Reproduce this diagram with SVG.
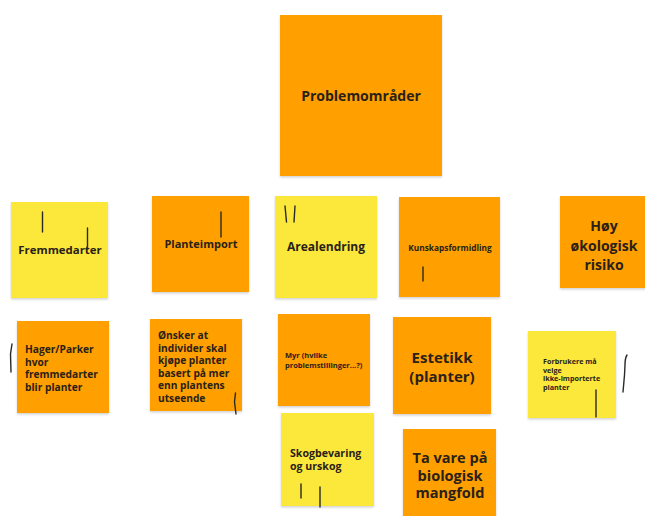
<svg xmlns="http://www.w3.org/2000/svg" width="645" height="516" viewBox="0 0 645 516">
<defs>
<filter id="sh" x="-10%" y="-10%" width="120%" height="120%">
<feDropShadow dx="0" dy="1.5" stdDeviation="1.2" flood-color="#000" flood-opacity="0.18"/>
</filter>
</defs>
<style>
.o{fill:#FF9F00;filter:url(#sh)}
.y{fill:#FCE83A;filter:url(#sh)}
text{font-family:"Open Sans","DejaVu Sans",sans-serif;font-weight:700;fill:#2a2118}
.c{text-anchor:middle}
.pen{fill:none;stroke:#2a2a2a;stroke-width:1.4;stroke-linecap:round}
</style>
<rect width="645" height="516" fill="#fff"/>
<g id="problemomrader"><rect class="o" x="280" y="15" width="162" height="161"/><text class="c" x="361" y="101" font-size="14">Problemområder</text></g>
<g id="fremmedarter"><rect class="y" x="11" y="202" width="97" height="96"/><text class="c" x="60" y="254" font-size="11.4">Fremmedarter</text><path class="pen" d="M42.5 212v20M87.5 228v21"/></g>
<g id="planteimport"><rect class="o" x="152" y="196" width="97" height="96"/><text class="c" x="201" y="248" font-size="11">Planteimport</text><path class="pen" d="M221 212v25"/></g>
<g id="arealendring"><rect class="y" x="275" y="196" width="102" height="102"/><text class="c" x="326" y="251" font-size="12">Arealendring</text><path class="pen" d="M285 206l1.5 16M295 206l-1 16"/></g>
<g id="kunskapsformidling"><rect class="o" x="399" y="197" width="101" height="100"/><text class="c" x="450" y="251" font-size="8.3">Kunskapsformidling</text><path class="pen" d="M423 267v14"/></g>
<g id="hoy-risiko"><rect class="o" x="560" y="196" width="88" height="92"/><text class="c" font-size="14"><tspan x="604" y="231">Høy</tspan><tspan x="604" y="251">økologisk</tspan><tspan x="604" y="270">risiko</tspan></text></g>
<g id="hager"><rect class="o" x="17" y="321" width="92" height="92"/><text font-size="10.2"><tspan x="25" y="353">Hager/Parker</tspan><tspan x="25" y="365.5">hvor</tspan><tspan x="25" y="378">fremmedarter</tspan><tspan x="25" y="390.5">blir planter</tspan></text><path class="pen" d="M12 344l-1.5 10 0.5 18"/></g>
<g id="onsker"><rect class="o" x="150" y="319" width="92" height="92"/><text font-size="10.2"><tspan x="158" y="339">Ønsker at</tspan><tspan x="158" y="351.5">individer skal</tspan><tspan x="158" y="364">kjøpe planter</tspan><tspan x="158" y="376.5">basert på mer</tspan><tspan x="158" y="389">enn plantens</tspan><tspan x="158" y="401.5">utseende</tspan></text><path class="pen" d="M235.5 393l-1 9 1.5 12"/></g>
<g id="myr"><rect class="o" x="278" y="314" width="92" height="92"/><text font-size="7.5"><tspan x="285" y="358">Myr (hvilke</tspan><tspan x="285" y="367.5">problemstillinger...?)</tspan></text></g>
<g id="estetikk"><rect class="o" x="393" y="317" width="98" height="97"/><text class="c" font-size="15"><tspan x="442" y="363">Estetikk</tspan><tspan x="442" y="381.5">(planter)</tspan></text></g>
<g id="forbrukere"><rect class="y" x="528" y="331" width="88" height="87"/><text font-size="7.2"><tspan x="543" y="364">Forbrukere må</tspan><tspan x="543" y="372.5">velge</tspan><tspan x="543" y="381">ikke-importerte</tspan><tspan x="543" y="389.5">planter</tspan></text><path class="pen" d="M596 390v27"/><path class="pen" d="M627 355c-2 3-2 6-2 10l-0.5 10-1.5 17"/></g>
<g id="skogbevaring"><rect class="y" x="281" y="413" width="93" height="93"/><text font-size="10.6"><tspan x="290" y="456.5">Skogbevaring</tspan><tspan x="290" y="470">og urskog</tspan></text><path class="pen" d="M301 484v14M320 487v20"/></g>
<g id="ta-vare"><rect class="o" x="403" y="429" width="93" height="90"/><text class="c" font-size="14.5"><tspan x="450" y="463">Ta vare på</tspan><tspan x="450" y="480.5">biologisk</tspan><tspan x="450" y="498">mangfold</tspan></text></g>
<g id="connectors"/>
</svg>
